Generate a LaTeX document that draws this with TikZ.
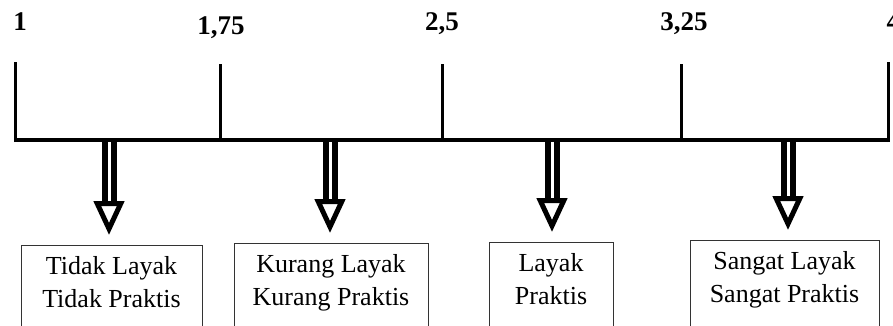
\documentclass[tikz,border=0pt]{standalone}
\usepackage{fontspec}
\setmainfont{Liberation Serif}
\usetikzlibrary{arrows.meta}

\begin{document}
\begin{tikzpicture}[x=1pt, y=-1pt,
        axis/.style={line width=4pt},
        tick/.style={line width=3pt},
        score/.style={anchor=base, font=\fontsize{27}{30}\selectfont\bfseries},
        grade/.style={draw=black!80, line width=1pt, anchor=north, align=center,
            inner ysep=11pt, font=\fontsize{26}{33}\selectfont},
        down/.style={double, double distance=3pt, line width=6pt, shorten >=10pt,
            -{Triangle[open, length=34pt, width=30pt, line width=5pt]}}]
        \useasboundingbox (0,0) rectangle (893,326);
        \clip (0,0) rectangle (893,326);

        \coordinate (p1) at (15,140);
        \coordinate (p2) at (220,140);
        \coordinate (p3) at (442,140);
        \coordinate (p4) at (681,140);
        \coordinate (p5) at (888,140);

        \node[score] (v1) at (20,31) {1};
        \node[score] (v2) at (221,35) {1,75};
        \node[score] (v3) at (442,31) {2,5};
        \node[score] (v4) at (684,31) {3,25};
        \node[score, anchor=base west] (v5) at (883,31) {4};

        \node[grade, minimum width=181pt] (g1) at (111.5,245) {Tidak Layak\\Tidak Praktis\\[40pt]};
        \node[grade, minimum width=194pt] (g2) at (331,243) {Kurang Layak\\Kurang Praktis\\[40pt]};
        \node[grade, minimum width=124pt] (g3) at (551,242) {Layak\\Praktis\\[40pt]};
        \node[grade, minimum width=189pt] (g4) at (784.5,240) {Sangat Layak\\Sangat Praktis\\[40pt]};

        \coordinate (a1) at (109,140);
        \coordinate (a2) at (330,140);
        \coordinate (a3) at (552,140);
        \coordinate (a4) at (788,140);

        \draw[down] (a1) -- (a1 |- g1.north);
        \draw[down] (a2) -- (a2 |- g2.north);
        \draw[down] (a3) -- (a3 |- g3.north);
        \draw[down] (a4) -- (a4 |- g4.north);

        \draw[axis] (p1) -- (p5);
        \draw[tick] (p1) ++(0,2) -- ++(0,-80);
        \draw[tick] (p2) -- ++(0,-76);
        \draw[tick] (p3) -- ++(0,-76);
        \draw[tick] (p4) -- ++(0,-76);
        \draw[tick] (p5) ++(0,2) -- ++(0,-80);
\end{tikzpicture}
\end{document}
